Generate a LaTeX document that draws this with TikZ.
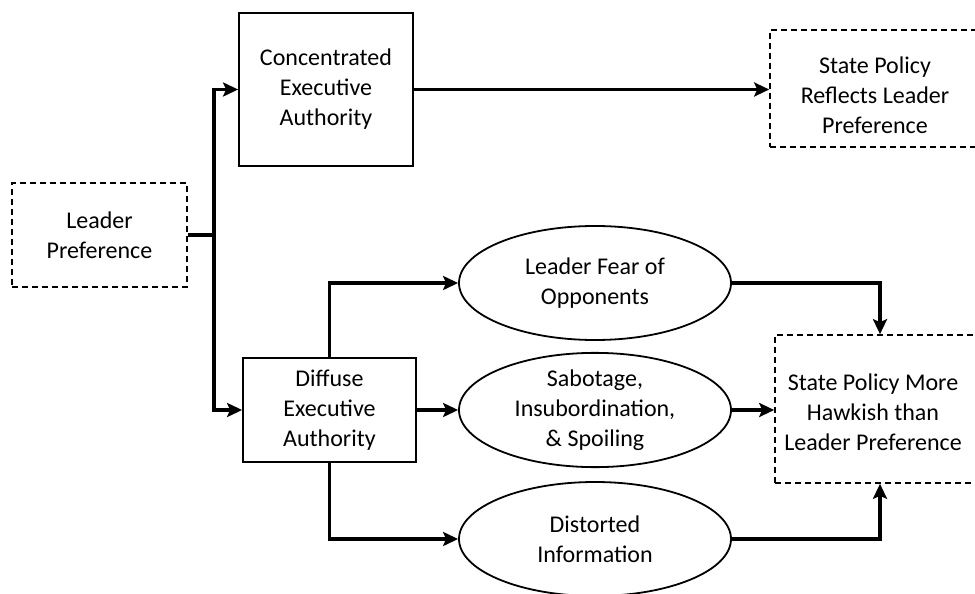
\documentclass[tikz,border=0pt]{standalone}
\usepackage{fontspec}
\setmainfont{Carlito}
\usetikzlibrary{shapes.geometric,arrows.meta}
\begin{document}
\begin{tikzpicture}[x=1pt,y=-1pt,
  every node/.style={font=\fontsize{24}{30}\selectfont, align=center, inner sep=0pt},
  solidbox/.style={draw, line width=1.8pt, minimum width=#1},
  dashbox/.style={draw, line width=1.6pt, dash pattern=on 6pt off 4pt},
  oval/.style={draw, ellipse, line width=1.8pt, minimum width=272pt, minimum height=114pt},
  conn/.style={line width=3.6pt, -{Stealth[length=15pt,width=14pt,inset=3pt]}},
  plain/.style={line width=3.6pt}
]
\clip (0,0) rectangle (975,594);
\fill[white] (0,0) rectangle (975,594);

% left
\node[dashbox, minimum width=175pt, minimum height=104pt] (lp) at (99.5,235) {Leader\\Preference};
\node[solidbox=174pt, minimum height=153pt] (ceo) at (326,89.5) {Concentrated\\Executive\\Authority};
\node[solidbox=173pt, minimum height=104pt] (deo) at (329.5,410) {Diffuse\\Executive\\Authority};

% ellipses
\node[oval] (e1) at (595,283) {Leader Fear of\\Opponents};
\node[oval] (e2) at (595,410) {Sabotage,\\Insubordination,\\\& Spoiling};
\node[oval] (e3) at (595,539) {Distorted\\Information};

% right boxes
\node[dashbox, minimum width=215pt, minimum height=117pt] (spr) at (877.5,88.5) {};
\node (sprt) at (875,95) {State Policy\\Reflects Leader\\Preference};
\node[dashbox, minimum width=210pt, minimum height=148pt] (spm) at (880,409) {};
\node (spmt) at (873,412) {State Policy More\\Hawkish than\\Leader Preference};

% connectors
\coordinate (j) at (214,235);
\draw[plain] (lp.east) -- (j);
\draw[conn] ([yshift=-1.8pt]j) |- (ceo.west);
\draw[conn] ([yshift=1.8pt]j) |- (deo.west);
\draw[conn] (ceo.east) -- (ceo.east -| spr.west);
\draw[conn] (deo.north) |- (e1.west);
\draw[conn] (deo.east) -- (e2.west);
\draw[conn] (deo.south) |- (e3.west);
\draw[conn] (e1.east) -| (spm.north);
\draw[conn] (e2.east) -- (e2.east -| spm.west);
\draw[conn] (e3.east) -| (spm.south);
\end{tikzpicture}
\end{document}
